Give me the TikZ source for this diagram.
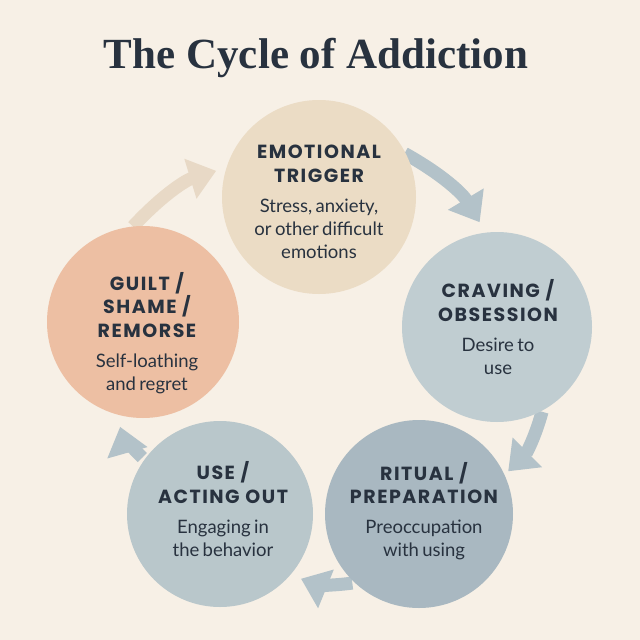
\documentclass[tikz,border=0pt]{standalone}
\usepackage{fontspec}
\setmainfont{Lato}
\newfontfamily\titlefont{Liberation Serif}
\newfontfamily\headfont[LetterSpace=8]{Poppins}
\usetikzlibrary{positioning}
\usetikzlibrary{arrows.meta}
\definecolor{paper}{HTML}{F7F0E6}
\definecolor{ink}{HTML}{28323F}
\definecolor{triggerFill}{HTML}{EBDCC5}
\definecolor{guiltFill}{HTML}{EDBFA3}
\definecolor{cravingFill}{HTML}{C0CDD1}
\definecolor{ritualFill}{HTML}{A9B8C1}
\definecolor{useFill}{HTML}{B9C7CB}
\definecolor{warmArrow}{HTML}{E8D9C6}
\definecolor{coolArrow}{HTML}{B3C2C9}
\tikzset{
   stageCircle/.style={draw=none, shape=circle, minimum size=192pt, inner sep=0pt, outer sep=0pt},
   stageText/.style={text width=190pt, align=center, inner sep=0pt, text=ink},
   cycleArrow/.style={line width=13pt, -{Triangle[width=40pt,length=27pt]}, bend left=15},
}
\newcommand{\stageHead}[1]{{\headfont\bfseries\fontsize{19}{23.5}\selectfont #1\par}\vspace{7pt}}
\newcommand{\stageBody}[1]{{\fontsize{18.5}{23}\selectfont #1\par}}
\newcommand{\gap}{\hspace{0.3em}}

\begin{document}
\begin{tikzpicture}[x=1pt,y=1pt]
  %
  \fill[paper] (0,0) rectangle (640,-640);
  \useasboundingbox (0,0) rectangle (640,-640);
  %
  \node[anchor=base, text=ink, font=\titlefont\bfseries\fontsize{43}{43}\selectfont] (title) at (316,-68) {The Cycle of Addiction};
  %
  % circles first as coordinates for the arrows
  \path (319,-197) node[stageCircle] (trigger) {};
  \path (143,-322) node[stageCircle] (guilt) {};
  \path (497,-327) node[stageCircle] (craving) {};
  \path (220,-514) node[stageCircle] (use) {};
  \path (419,-514) node[stageCircle] (ritual) {};
  %
  % the arrows sit behind the circles
  \draw[cycleArrow, draw=warmArrow, fill=warmArrow, shorten >=12pt] (guilt.96) to (trigger.162);
  \draw[cycleArrow, draw=coolArrow, fill=coolArrow, shorten >=11pt] (trigger.27) to (craving.97);
  \draw[cycleArrow, draw=coolArrow, fill=coolArrow, shorten >=3pt] (craving.-62) to (ritual.25);
  \draw[cycleArrow, draw=coolArrow, fill=coolArrow, shorten >=8pt] (ritual.226) to (use.-40);
  \draw[cycleArrow, draw=coolArrow, fill=coolArrow, shorten >=13pt] (use.144) to (guilt.-106);
  %
  \fill[triggerFill] (trigger) circle (97pt);
  \fill[guiltFill] (guilt) circle (96pt);
  \fill[cravingFill] (craving) circle (95pt);
  \fill[useFill] (use) circle (93pt);
  \fill[ritualFill] (ritual) circle (94pt);
  %
  \node[stageText] (triggerText) at (319,-202) {\stageHead{EMOTIONAL\\TRIGGER}\stageBody{Stress, anxiety,\\or other difficult\\emotions}};
  \node[stageText] (guiltText) at (147,-333) {\stageHead{GUILT\gap/\\SHAME\gap/\\REMORSE}\stageBody{Self-loathing\\and regret}};
  \node[stageText] (cravingText) at (498,-327) {\stageHead{CRAVING\gap/\\OBSESSION}\stageBody{Desire to\\use}};
  \node[stageText] (useText) at (223,-509) {\stageHead{USE\gap/\\ACTING\gap OUT}\stageBody{Engaging in\\the behavior}};
  \node[stageText] (ritualText) at (424,-511) {\stageHead{RITUAL\gap/\\PREPARATION}\stageBody{Preoccupation\\with using}};
\end{tikzpicture}
\end{document}
